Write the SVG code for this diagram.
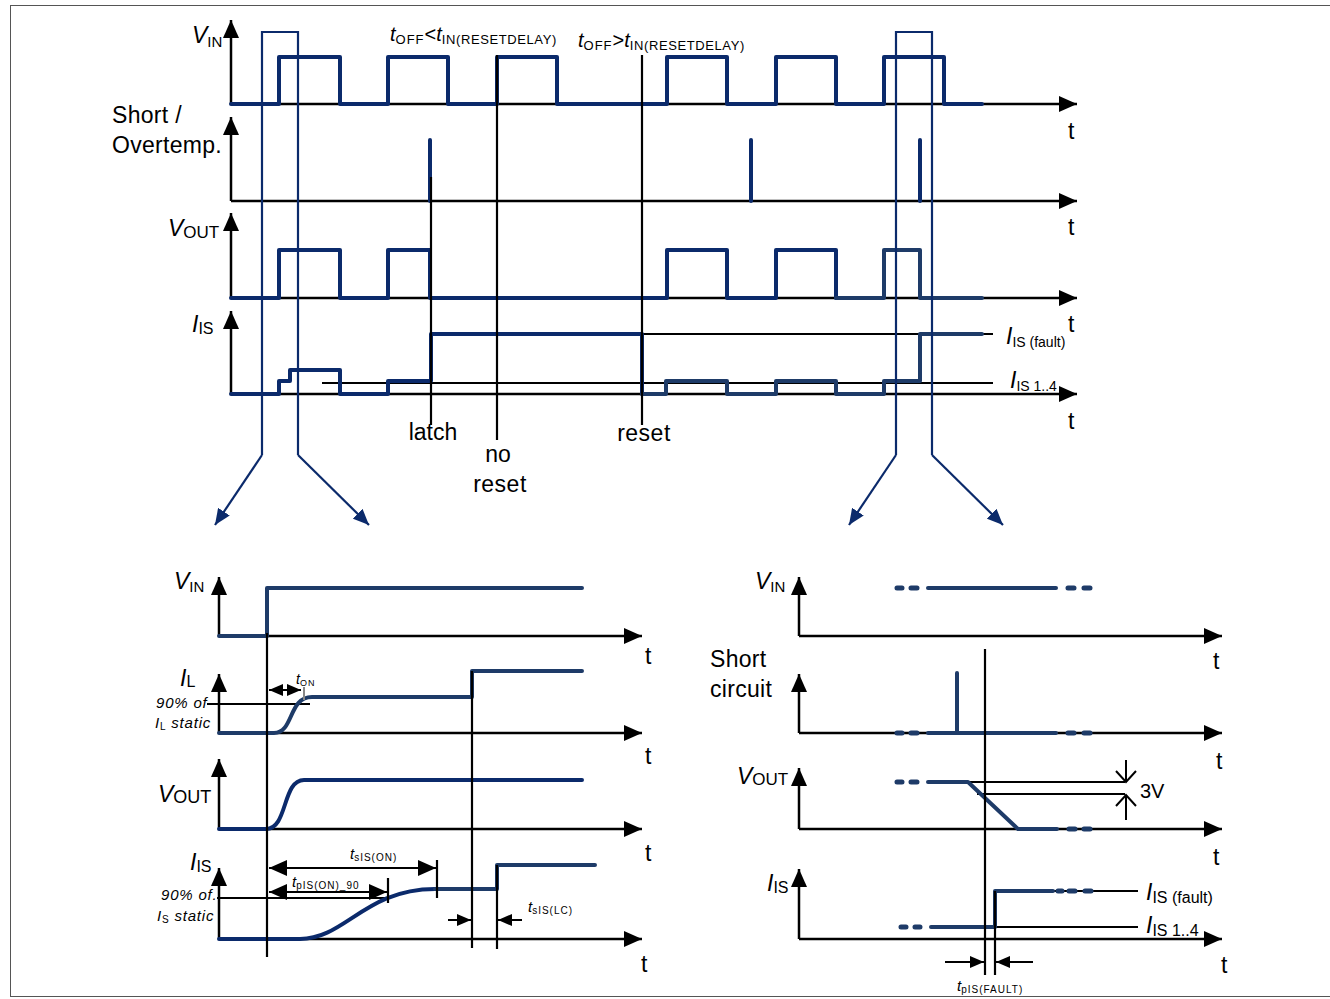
<svg xmlns="http://www.w3.org/2000/svg" width="1330" height="999" viewBox="0 0 1330 999">
<defs>
<style>
.ax{stroke:#000;stroke-width:2.5;fill:none}
.ref{stroke:#000;stroke-width:2.2;fill:none}
.sig{stroke:#0b2a6b;stroke-width:4;fill:none;stroke-linejoin:round;stroke-linecap:round}
.sig2{stroke:#1e3b68;stroke-width:4;fill:none;stroke-linejoin:round;stroke-linecap:round}
.dash{stroke:#1e3b68;stroke-width:5;fill:none;stroke-linecap:round}
.lens{stroke:#0b2a6b;stroke-width:2.2;fill:none}
.dim{stroke:#000;stroke-width:2;fill:none}
text{font-family:"Liberation Sans",Arial,sans-serif;fill:#000}
.lb{font-size:23px}
.it{font-style:italic}
.tt{font-size:23px}
</style>
<marker id="ah" markerUnits="userSpaceOnUse" markerWidth="18" markerHeight="16" refX="18" refY="8" orient="auto-start-reverse"><path d="M0,0 L18,8 L0,16 z" fill="#000"/></marker>
<marker id="sa" markerUnits="userSpaceOnUse" markerWidth="14" markerHeight="12" refX="14" refY="6" orient="auto-start-reverse"><path d="M0,0 L14,6 L0,12 z" fill="#000"/></marker>
<marker id="ch" markerUnits="userSpaceOnUse" markerWidth="14" markerHeight="24" refX="12" refY="12" orient="auto"><path d="M1,2 L12,12 L1,22" fill="none" stroke="#000" stroke-width="2"/></marker>
<marker id="na" markerUnits="userSpaceOnUse" markerWidth="16" markerHeight="14" refX="16" refY="7" orient="auto"><path d="M0,0 L16,7 L0,14 z" fill="#0b2a6b"/></marker>
</defs>
<rect x="10.5" y="5.5" width="1330" height="991" fill="#fff" stroke="#555" stroke-width="1"/>

<!-- TOP OVERVIEW -->
<g id="top-vin">
<path class="ax" d="M231,104 V20" marker-end="url(#ah)"/>
<path class="ax" d="M231,104 H1077" marker-end="url(#ah)"/>
<path class="sig" d="M231,104 H279 V57 H340 V104 H388 V57 H448 V104 H497 V57 H557 V104 H667 V57 H727 V104 H776 V57 H836 V104 H884 V57 H944 V104 H982"/>
<text x="192" y="43" class="lb"><tspan class="it">V</tspan><tspan font-size="15" dy="4">IN</tspan></text>
<text x="1068" y="139" class="tt">t</text>
<text x="390" y="41" font-size="20"><tspan class="it">t</tspan><tspan font-size="13" dy="3" letter-spacing="1">OFF</tspan><tspan dy="-3">&lt;</tspan><tspan class="it">t</tspan><tspan font-size="13" dy="3" letter-spacing="0.6">IN(RESETDELAY)</tspan></text>
<text x="578" y="47" font-size="20"><tspan class="it">t</tspan><tspan font-size="13" dy="3" letter-spacing="1">OFF</tspan><tspan dy="-3">&gt;</tspan><tspan class="it">t</tspan><tspan font-size="13" dy="3" letter-spacing="0.6">IN(RESETDELAY)</tspan></text>
</g>

<g id="top-short">
<path class="ax" d="M231,201 V117" marker-end="url(#ah)"/>
<path class="ax" d="M231,201 H1077" marker-end="url(#ah)"/>
<path class="sig" d="M430,140 V201 M751,140 V201 M920,140 V201"/>
<text x="112" y="123" class="lb" letter-spacing="0.3">Short /</text>
<text x="112" y="153" class="lb" letter-spacing="0.3">Overtemp.</text>
<text x="1068" y="235" class="tt">t</text>
</g>

<g id="top-vout">
<path class="ax" d="M231,298 V213" marker-end="url(#ah)"/>
<path class="ax" d="M231,298 H1077" marker-end="url(#ah)"/>
<path class="sig" d="M231,298 H279 V250 H340 V298 H388 V250 H430 V298 H667 V250 H727 V298 H776 V250 H836 V298"/>
<path class="sig2" d="M836,298 H884 V250 H920 V298 H982"/>
<text x="168" y="236" class="lb"><tspan class="it">V</tspan><tspan font-size="17" dy="2">OUT</tspan></text>
<text x="1068" y="332" class="tt">t</text>
</g>

<g id="top-is">
<path class="ref" d="M431,334 H993"/>
<path class="ref" d="M322,383 H993"/>
<path class="ax" d="M231,394 V311" marker-end="url(#ah)"/>
<path class="ax" d="M231,394 H1077" marker-end="url(#ah)"/>
<path class="sig" d="M231,394 H279 V381 H290 V370 H340 V394 H388 V381 H431 V334 H642 V394"/>
<path class="sig2" d="M642,394 H666 V381 H727 V394 H776 V381 H836 V394 H884 V381 H920 V334 H982"/>
<text x="192" y="332" class="lb"><tspan class="it">I</tspan><tspan font-size="16" dy="2">IS</tspan></text>
<text x="1006" y="344" class="lb"><tspan class="it">I</tspan><tspan font-size="14" dy="3">IS (fault)</tspan></text>
<text x="1010" y="388" class="lb"><tspan class="it">I</tspan><tspan font-size="14" dy="3">IS 1..4</tspan></text>
<text x="1068" y="429" class="tt">t</text>
</g>

<g id="markers-top">
<path class="ref" d="M431,177 V425"/>
<path class="ref" d="M497,55 V440"/>
<path class="ref" d="M642,55 V425"/>
<text x="433" y="440" class="lb" text-anchor="middle">latch</text>
<text x="498" y="462" class="lb" text-anchor="middle">no</text>
<text x="500" y="492" class="lb" text-anchor="middle" letter-spacing="0.5">reset</text>
<text x="644" y="441" class="lb" text-anchor="middle" letter-spacing="0.5">reset</text>
</g>

<g id="connectors">
<path class="lens" d="M262,455 V32 H298 V455"/>
<path class="lens" d="M262,455 L215,525" marker-end="url(#na)"/>
<path class="lens" d="M298,455 L369,525" marker-end="url(#na)"/>
<path class="lens" d="M896,455 V32 H932 V455"/>
<path class="lens" d="M896,455 L849,525" marker-end="url(#na)"/>
<path class="lens" d="M932,455 L1003,525" marker-end="url(#na)"/>
</g>

<!-- BOTTOM LEFT: switch on -->
<g id="bl-vin">
<path class="ax" d="M219,636 V577" marker-end="url(#ah)"/>
<path class="ax" d="M219,636 H642" marker-end="url(#ah)"/>
<path class="sig2" d="M219,636 H267 V588 H582"/>
<text x="174" y="589" class="lb"><tspan class="it">V</tspan><tspan font-size="15" dy="3">IN</tspan></text>
<text x="645" y="664" class="tt">t</text>
</g>

<g id="bl-il">
<path class="ref" d="M207,704 H310"/>
<path class="ax" d="M219,733 V674" marker-end="url(#ah)"/>
<path class="ax" d="M219,733 H642" marker-end="url(#ah)"/>
<path class="sig2" d="M219,733 H274 C294,733 288,697 312,697 H472 V671 H582"/>
<path d="M269,690 H301" class="dim" marker-start="url(#sa)" marker-end="url(#sa)"/>
<path d="M304,687 V700" stroke="#888" stroke-width="2"/>
<text x="296" y="684" font-size="14"><tspan class="it">t</tspan><tspan font-size="9" dy="2" letter-spacing="1">ON</tspan></text>
<text x="180" y="686" class="lb"><tspan class="it">I</tspan><tspan font-size="16" dy="1">L</tspan></text>
<text x="156" y="708" font-size="15" class="it" letter-spacing="0.8">90% of</text>
<text x="155" y="728" font-size="15" letter-spacing="0.8"><tspan class="it">I</tspan><tspan font-size="10" dy="2">L</tspan><tspan class="it" dy="-2"> static</tspan></text>
<text x="645" y="764" class="tt">t</text>
</g>

<g id="bl-vout">
<path class="ax" d="M219,829 V759" marker-end="url(#ah)"/>
<path class="ax" d="M219,829 H642" marker-end="url(#ah)"/>
<path class="sig" d="M219,829 H266 C288,829 282,780 304,780 H582"/>
<text x="158" y="802" class="lb"><tspan class="it">V</tspan><tspan font-size="18" dy="1">OUT</tspan></text>
<text x="645" y="861" class="tt">t</text>
</g>

<g id="bl-is">
<path class="ref" d="M217,898 H388"/>
<path class="ax" d="M219,939 V868" marker-end="url(#ah)"/>
<path class="ax" d="M219,939 H642" marker-end="url(#ah)"/>
<path class="sig" d="M219,939 H300 C345,939 365,889 435,889"/>
<path class="sig2" d="M435,889 H497 V865 H595"/>
<path class="ref" d="M388,878 V903 M437,860 V898"/>
<path class="dim" d="M269,868 H436" marker-start="url(#ah)" marker-end="url(#ah)"/>
<path class="dim" d="M269,892 H387" marker-start="url(#ah)" marker-end="url(#ah)"/>
<path class="dim" d="M448,920 H471" marker-end="url(#sa)"/>
<path class="dim" d="M522,920 H498" marker-end="url(#sa)"/>
<text x="350" y="859" font-size="15"><tspan class="it">t</tspan><tspan font-size="10" dy="2" letter-spacing="1">sIS(ON)</tspan></text>
<text x="292" y="887" font-size="15"><tspan class="it">t</tspan><tspan font-size="10" dy="2" letter-spacing="1">pIS(ON)_90</tspan></text>
<text x="528" y="912" font-size="15"><tspan class="it">t</tspan><tspan font-size="10" dy="2" letter-spacing="1">sIS(LC)</tspan></text>
<text x="190" y="870" class="lb"><tspan class="it">I</tspan><tspan font-size="16" dy="2">IS</tspan></text>
<text x="161" y="900" font-size="15" class="it" letter-spacing="0.8">90% of.</text>
<text x="157" y="921" font-size="15" letter-spacing="0.8"><tspan class="it">I</tspan><tspan font-size="10" dy="2">S</tspan><tspan class="it" dy="-2"> static</tspan></text>
<text x="641" y="972" class="tt">t</text>
</g>

<g id="bl-markers">
<path class="ref" d="M267,633 V957"/>
<path class="ref" d="M472,671 V948"/>
<path class="ref" d="M497,865 V949"/>
</g>

<!-- BOTTOM RIGHT: short circuit -->
<g id="br-vin">
<path class="ax" d="M799,636 V577" marker-end="url(#ah)"/>
<path class="ax" d="M799,636 H1222" marker-end="url(#ah)"/>
<path class="dash" d="M897,588 H902 M911,588 H917"/>
<path class="sig2" d="M928,588 H1056"/>
<path class="dash" d="M1068,588 H1074 M1084,588 H1090"/>
<text x="755" y="589" class="lb"><tspan class="it">V</tspan><tspan font-size="15" dy="3">IN</tspan></text>
<text x="1213" y="669" class="tt">t</text>
</g>

<g id="br-short">
<path class="ax" d="M799,733 V674" marker-end="url(#ah)"/>
<path class="ax" d="M799,733 H1222" marker-end="url(#ah)"/>
<path class="dash" d="M897,733 H902 M911,733 H917"/>
<path class="sig2" d="M928,733 H1056 M957,673 V733"/>
<path class="dash" d="M1068,733 H1074 M1084,733 H1090"/>
<text x="710" y="667" class="lb" letter-spacing="0.3">Short</text>
<text x="710" y="697" class="lb" letter-spacing="0.3">circuit</text>
<text x="1216" y="769" class="tt">t</text>
</g>

<g id="br-vout">
<path class="ref" d="M968,782 H1125 M977,794 H1125"/>
<path class="ax" d="M799,829 V768" marker-end="url(#ah)"/>
<path class="ax" d="M799,829 H1222" marker-end="url(#ah)"/>
<path class="dash" d="M897,782 H902 M911,782 H917"/>
<path class="sig2" d="M928,782 H968 L1018,829 H1057"/>
<path class="dash" d="M1069,829 H1075 M1084,829 H1090"/>
<path class="dim" d="M1126,760 V782" marker-end="url(#ch)"/>
<path class="dim" d="M1126,820 V795" marker-end="url(#ch)"/>
<text x="1140" y="798" font-size="20">3V</text>
<text x="737" y="784" class="lb"><tspan class="it">V</tspan><tspan font-size="17" dy="1">OUT</tspan></text>
<text x="1213" y="865" class="tt">t</text>
</g>

<g id="br-is">
<path class="ref" d="M945,927 H1138 M995,891 H1138"/>
<path class="ax" d="M799,939 V869" marker-end="url(#ah)"/>
<path class="ax" d="M799,939 H1222" marker-end="url(#ah)"/>
<path class="dash" d="M901,927 H906 M915,927 H920"/>
<path class="sig2" d="M931,927 H995 V891 H1053"/>
<path class="dash" d="M1058,891 H1062 M1069,891 H1075 M1085,891 H1091"/>
<path class="ref" d="M995,891 V975"/>
<path class="dim" d="M945,962 H984" marker-end="url(#sa)"/>
<path class="dim" d="M1033,962 H996" marker-end="url(#sa)"/>
<text x="957" y="991" font-size="15"><tspan class="it">t</tspan><tspan font-size="10" dy="2" letter-spacing="1">pIS(FAULT)</tspan></text>
<text x="767" y="891" class="lb"><tspan class="it">I</tspan><tspan font-size="16" dy="2">IS</tspan></text>
<text x="1146" y="900" class="lb"><tspan class="it">I</tspan><tspan font-size="16" dy="3">IS (fault)</tspan></text>
<text x="1146" y="933" class="lb"><tspan class="it">I</tspan><tspan font-size="16" dy="3">IS 1..4</tspan></text>
<text x="1221" y="973" class="tt">t</text>
</g>

<g id="br-markers">
<path class="ref" d="M985,649 V975"/>
</g>
</svg>
